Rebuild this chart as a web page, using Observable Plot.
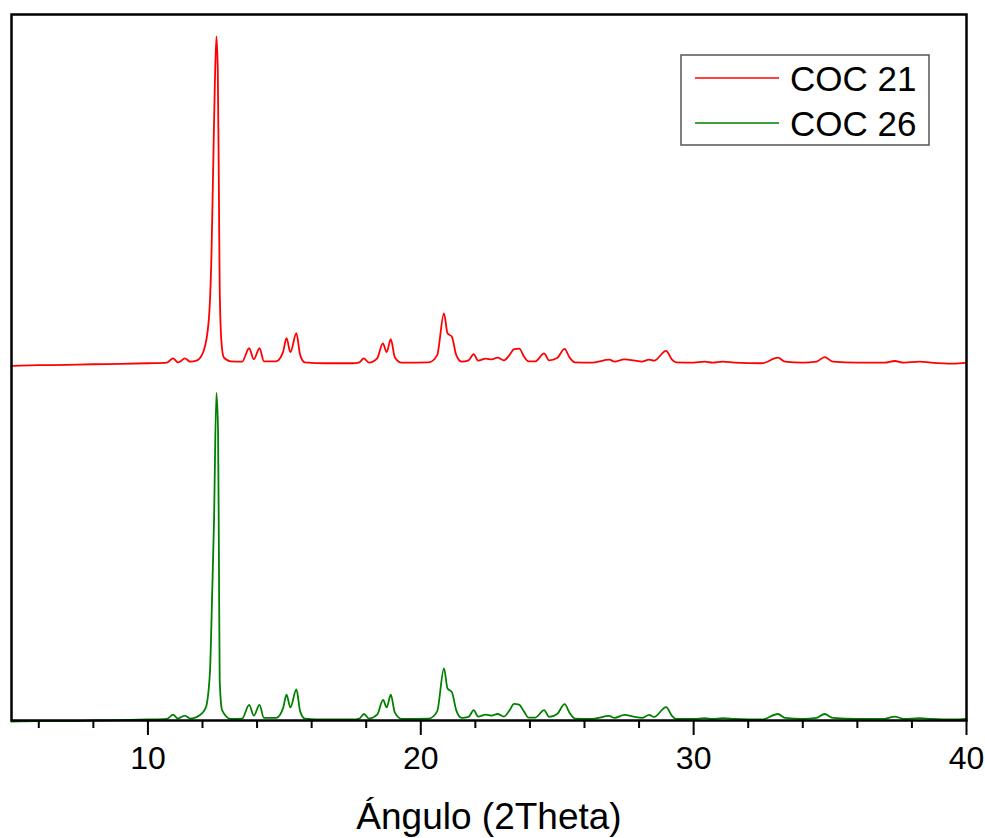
<!DOCTYPE html>
<html><head><meta charset="utf-8">
<script src="https://cdn.jsdelivr.net/npm/d3@7"></script>
<script src="https://cdn.jsdelivr.net/npm/@observablehq/plot@0.6"></script>
<style>
body{margin:0;background:#fff;font-family:"Liberation Sans",Arial,sans-serif;}
#wrap{position:relative;width:985px;height:838px;}
#legend{position:absolute;left:680px;top:54px;}
</style></head><body><div id="wrap"></div>
<script>
// Series names and colours
const seriesNames = ["COC 21", "COC 26"];
const seriesColors = ["#ff0000", "#008000"];
// Vertical offset applied to the COC 21 pattern (stacked plot)
const coc21Offset = 1090;

// COC 21 pattern (2θ, intensity a.u.)
const coc21Angle = [5.0,6.0,7.0,8.0,9.0,10.0,10.7,10.92,11.1,11.2,11.35,11.55,11.8,12.05,12.23,12.33,12.39,12.45,12.51,12.56,12.60,12.63,12.69,12.78,13.03,13.45,13.71,13.88,14.09,14.25,14.7,14.95,15.08,15.22,15.44,15.58,15.75,16.5,17.5,17.75,17.91,18.1,18.4,18.61,18.75,18.90,19.05,19.3,20.3,20.6,20.85,20.98,21.14,21.3,21.5,21.75,21.94,22.1,22.38,22.6,22.81,23.05,23.25,23.42,23.61,23.78,23.95,24.2,24.52,24.7,25.0,25.27,25.45,25.65,26.3,26.91,27.1,27.46,27.8,28.1,28.37,28.55,28.99,29.2,29.35,30.0,30.4,30.7,31.07,31.5,32.5,33.09,33.35,34.0,34.5,34.8,35.1,36.0,37.0,37.37,37.7,38.29,38.7,39.5,40.0];
const coc21Intensity = [12,14,15,17,18,20,22,35,23,26,35,25,29,60,152,357,612,866,1022,918,560,253,91,38,26,25,66,32,66,26,26,54,97,54,112,45,23,20,20,23,35,22,35,81,54,94,38,22,23,45,173,112,101,45,25,29,48,28,34,32,37,29,45,63,65,41,26,26,50,29,36,64,38,23,22,31,25,32,29,25,31,28,58,32,23,22,25,22,25,22,20,37,25,22,25,39,25,22,22,27,22,25,22,19,22];

// COC 26 pattern (2θ, intensity a.u.)
const coc26Angle = [5.0,6.0,7.0,8.0,9.0,10.0,10.7,10.92,11.1,11.35,11.55,11.8,12.11,12.27,12.36,12.42,12.51,12.57,12.60,12.63,12.72,13.03,13.45,13.71,13.88,14.09,14.25,14.7,14.95,15.08,15.22,15.44,15.58,15.75,16.5,17.5,17.75,17.92,18.1,18.4,18.62,18.75,18.9,19.05,19.3,20.3,20.6,20.85,20.98,21.14,21.3,21.5,21.75,21.94,22.1,22.38,22.6,22.81,23.05,23.25,23.42,23.6,23.78,23.95,24.2,24.52,24.7,25.0,25.27,25.45,25.65,26.3,26.91,27.1,27.46,27.8,28.1,28.37,28.55,28.99,29.2,29.35,30.0,30.4,30.7,31.07,31.5,32.5,33.09,33.35,34.0,34.5,34.8,35.1,36.0,37.0,37.37,37.7,38.29,38.7,39.5,40.0];
const coc26Intensity = [12,13,13,15,16,18,20,33,21,30,21,26,52,159,423,619,1019,904,546,138,46,20,21,63,30,63,23,23,52,94,55,110,43,21,18,18,21,35,21,33,78,55,94,39,20,21,43,175,113,102,46,23,26,47,27,33,30,35,27,46,66,64,43,24,24,47,26,35,65,39,21,20,29,23,32,27,23,32,26,56,30,20,20,22,20,22,20,18,35,23,20,23,35,23,20,20,27,20,22,20,18,20];

// Axis ticks
const majorTicks = [10, 20, 30, 40];
const minorTicks = [6, 8, 12, 14, 16, 18, 22, 24, 26, 28, 32, 34, 36, 38];
const xTitle = "Ángulo (2Theta)";

const coc21 = coc21Angle.map((a, i) => ({angle: a, y: coc21Intensity[i] + coc21Offset}));
const coc26 = coc26Angle.map((a, i) => ({angle: a, y: coc26Intensity[i]}));

const chart = Plot.plot({
  width: 985,
  height: 838,
  marginLeft: 11,
  marginRight: 19,
  marginTop: 14,
  marginBottom: 118,
  style: {fontFamily: "'Liberation Sans', Arial, sans-serif", fontSize: "26px", color: "#000", background: "#fff"},
  x: {domain: [5, 40]},
  y: {domain: [15, 2179], axis: null},
  marks: [
    Plot.line(coc21, {x: "angle", y: "y", stroke: seriesColors[0], strokeWidth: 1.8, curve: "monotone-x"}),
    Plot.line(coc26, {x: "angle", y: "y", stroke: seriesColors[1], strokeWidth: 1.8, curve: "monotone-x"}),
    Plot.axisX(minorTicks, {tickSize: 8, strokeWidth: 2, tickFormat: () => "", label: null}),
    Plot.axisX(majorTicks, {tickSize: 15, strokeWidth: 2, tickPadding: 11, fontSize: 32, label: null}),
    Plot.frame({stroke: "#000", strokeWidth: 2.5}),
    Plot.text([xTitle], {frameAnchor: "bottom", dy: 97, fontSize: 37, lineAnchor: "middle", fill: "#000"})
  ]
});
document.getElementById("wrap").appendChild(chart);

// Legend
const legend = d3.select("#wrap").append("svg").attr("id", "legend")
  .attr("width", 252).attr("height", 94);
legend.append("rect").attr("x", 1).attr("y", 1).attr("width", 248).attr("height", 90)
  .attr("fill", "#fff").attr("stroke", "#555").attr("stroke-width", 1.5);
seriesNames.forEach((name, i) => {
  const cy = 24 + i * 45;
  legend.append("line").attr("x1", 15).attr("x2", 99).attr("y1", cy).attr("y2", cy)
    .attr("stroke", seriesColors[i]).attr("stroke-width", 1.5);
  legend.append("text").attr("x", 110).attr("y", cy + 13).text(name)
    .attr("font-size", 35).attr("font-family", "'Liberation Sans', Arial, sans-serif").attr("fill", "#000");
});
</script>
</body></html>
